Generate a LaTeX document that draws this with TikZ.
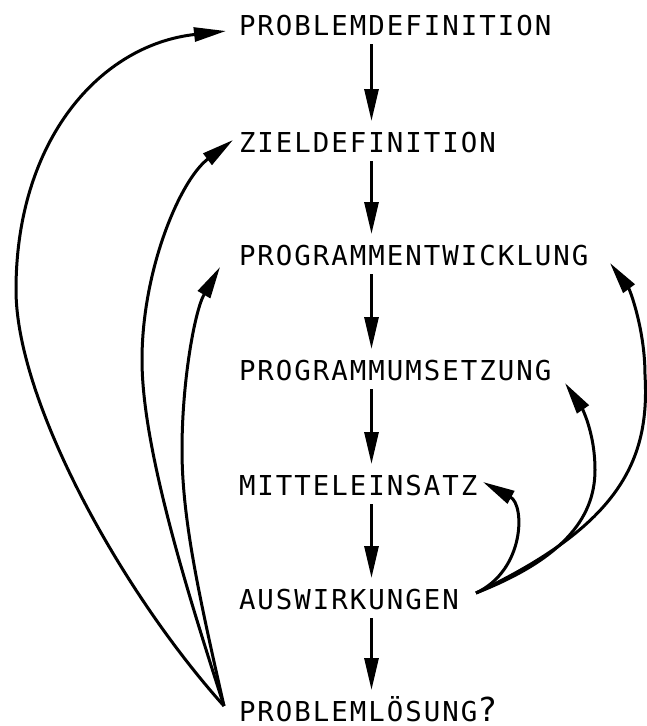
\documentclass[tikz,border=0pt]{standalone}
\usepackage{fontspec}
\newfontfamily\lblfont[LetterSpace=7.3]{DejaVu Sans Mono}
\usetikzlibrary{arrows.meta}
\begin{document}
\begin{tikzpicture}[x=1pt,y=-1pt,
  lbl/.style={inner sep=0pt, outer sep=0pt, anchor=base west, text height=20pt, text depth=0pt,
    font=\lblfont\fontsize{27.4pt}{30pt}\selectfont},
  conn/.style={line width=3pt, -{Triangle[length=32pt,width=14pt]}},
  vconn/.style={conn, shorten <=9pt, shorten >=11pt}]
\useasboundingbox (0,0) rectangle (646,726);
\node[lbl] (pd) at (239,35) {PROBLEMDEFINITION};
\node[lbl] (zd) at (239,152) {ZIELDEFINITION};
\node[lbl] (pe) at (239,265) {PROGRAMMENTWICKLUNG};
\node[lbl] (pu) at (239,380) {PROGRAMMUMSETZUNG};
\node[lbl] (mi) at (239,495) {MITTELEINSATZ};
\node[lbl] (au) at (239,609) {AUSWIRKUNGEN};
\node[lbl] (pl) at (239,721) {PROBLEMLÖSUNG{\fontsize{33pt}{36pt}\selectfont ?}};
\coordinate (axis) at (371.5,0);
% vertical arrows
\draw[vconn] (pd.south -| axis) -- (zd.north -| axis);
\draw[vconn] (zd.south -| axis) -- (pe.north -| axis);
\draw[vconn] (pe.south -| axis) -- (pu.north -| axis);
\draw[vconn] (pu.south -| axis) -- (mi.north -| axis);
\draw[vconn] (mi.south -| axis) -- (au.north -| axis);
\draw[vconn] (au.south -| axis) -- (pl.north -| axis);
% left feedback curves
\draw[conn] ([shift={(-15,-5)}]pl.west) .. controls (120,590) and (16,400) .. (16,290)
  .. controls (16,140) and (100,45) .. ([shift={(-13,6)}]pd.west);
\draw[conn] ([shift={(-15,-5)}]pl.west) .. controls (190,600) and (142,450) .. (142,360)
  .. controls (142,270) and (180,180) .. ([shift={(-6,-2)}]zd.west);
\draw[conn] ([shift={(-15,-5)}]pl.west) .. controls (200,600) and (182,520) .. (182,450)
  .. controls (182,380) and (195,310) .. ([shift={(-19,12)}]pe.west);
% right feedback curves
\draw[conn] ([shift={(237,-16)}]au.base west) .. controls (620,525) and (650,460) .. (645,375)
  .. controls (645,330) and (630,290) .. ([shift={(371,-2)}]pe.base west);
\draw[conn] ([shift={(237,-16)}]au.base west) .. controls (560,560) and (595,520) .. (595,470)
  .. controls (595,430) and (580,405) .. ([shift={(326,3)}]pu.base west);
\draw[conn] ([shift={(237,-16)}]au.base west) .. controls (525,570) and (525,505) .. ([shift={(244,-13)}]mi.base west);
\end{tikzpicture}
\end{document}
